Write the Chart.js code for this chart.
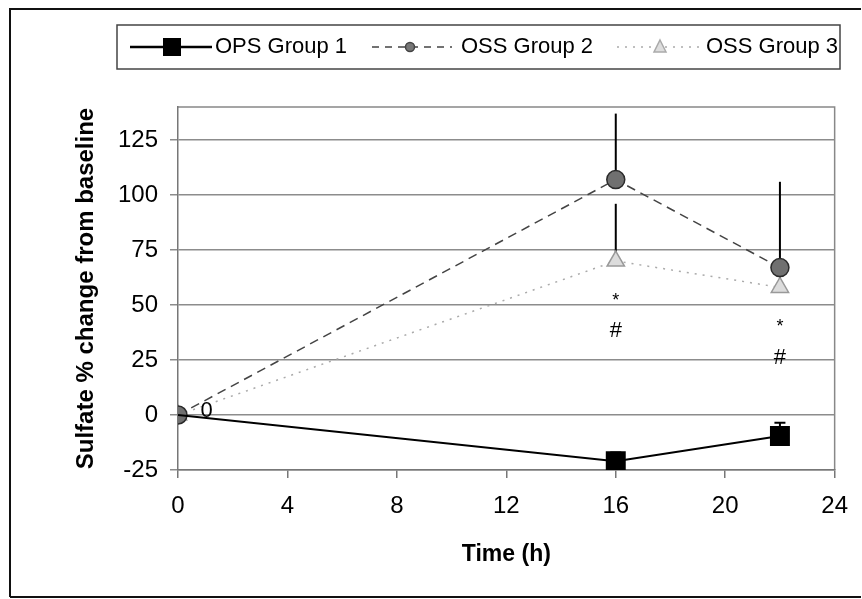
<!DOCTYPE html>
<html>
<head>
<meta charset="utf-8">
<title>Sulfate % change from baseline</title>
<script src="https://cdn.jsdelivr.net/npm/chart.js@4.4.1/dist/chart.umd.min.js"></script>
<style>
  html, body { margin: 0; padding: 0; background: #fff; }
  #wrap { width: 862px; height: 599px; }
</style>
</head>
<body>
<div id="wrap"><canvas id="sulfateChart" width="862" height="599"></canvas></div>
<script>
// Data
const timePoints = [0, 16, 22];
const opsGroup1 = [0, -21, -9.5];
const opsGroup1Err = [0, 4, 6];
const ossGroup2 = [0, 107, 67];
const ossGroup2Err = [0, 30, 39];
const ossGroup3 = [0, 70, 58];
const ossGroup3Err = [0, 26, 10];
const xTicks = [0, 4, 8, 12, 16, 20, 24];
const yTicks = [-25, 0, 25, 50, 75, 100, 125];
// significance marks and the "0" label near the origin
const noteText = ['0', '*', '#', '*', '#'];
const noteX = [1.05, 16, 16, 22, 22];
const noteY = [2, 52, 38, 40, 26];

const FONT = "'Liberation Sans', Arial, sans-serif";

function toPoints(values) {
  return timePoints.map((t, i) => ({ x: t, y: values[i] }));
}

// Error bars (upper only), drawn under the markers
const errorBars = {
  id: 'errorBars',
  beforeDatasetsDraw(chart) {
    const { ctx, scales: { x, y } } = chart;
    const sets = [
      { vals: opsGroup1, err: opsGroup1Err, cap: 11 },
      { vals: ossGroup2, err: ossGroup2Err, cap: 0 },
      { vals: ossGroup3, err: ossGroup3Err, cap: 0 }
    ];
    ctx.save();
    ctx.strokeStyle = '#000';
    ctx.lineWidth = 2;
    sets.forEach(s => {
      timePoints.forEach((t, i) => {
        if (!s.err[i]) return;
        const px = x.getPixelForValue(t);
        const y0 = y.getPixelForValue(s.vals[i]);
        const y1 = y.getPixelForValue(s.vals[i] + s.err[i]);
        ctx.beginPath();
        ctx.moveTo(px, y0);
        ctx.lineTo(px, y1);
        if (s.cap) {
          ctx.moveTo(px - s.cap / 2, y1);
          ctx.lineTo(px + s.cap / 2, y1);
        }
        ctx.stroke();
      });
    });
    ctx.restore();
  }
};

// Plot box, outer frame, notes and legend
const decorations = {
  id: 'decorations',
  beforeDraw(chart) {
    const { ctx, chartArea: a } = chart;
    ctx.save();
    ctx.strokeStyle = '#888';
    ctx.lineWidth = 1.5;
    ctx.beginPath();
    ctx.moveTo(a.left, a.top);
    ctx.lineTo(a.right, a.top);
    ctx.lineTo(a.right, a.bottom);
    ctx.stroke();
    ctx.restore();
  },
  afterDraw(chart) {
    const { ctx, scales: { x, y } } = chart;
    ctx.save();

    // outer frame
    ctx.strokeStyle = '#111';
    ctx.lineWidth = 2;
    ctx.beginPath();
    ctx.moveTo(10, 597);
    ctx.lineTo(10, 9);
    ctx.lineTo(861, 9);
    ctx.moveTo(10, 597);
    ctx.lineTo(861, 597);
    ctx.stroke();

    // notes
    ctx.fillStyle = '#000';
    ctx.textAlign = 'center';
    ctx.textBaseline = 'middle';
    noteText.forEach((txt, i) => {
      ctx.font = (txt === '*' ? '18px ' : '22px ') + FONT;
      ctx.fillText(txt, x.getPixelForValue(noteX[i]), y.getPixelForValue(noteY[i]));
    });

    // legend box
    ctx.strokeStyle = '#444';
    ctx.lineWidth = 1.5;
    ctx.strokeRect(117, 25, 723, 44);
    const ly = 47;
    ctx.font = '22px ' + FONT;
    ctx.textAlign = 'left';

    // OPS Group 1
    ctx.strokeStyle = '#000';
    ctx.lineWidth = 2.5;
    ctx.setLineDash([]);
    ctx.beginPath(); ctx.moveTo(130, ly); ctx.lineTo(212, ly); ctx.stroke();
    ctx.fillRect(163, ly - 9, 18, 18);
    ctx.fillText('OPS Group 1', 215, ly);

    // OSS Group 2
    ctx.strokeStyle = '#444';
    ctx.lineWidth = 1.5;
    ctx.setLineDash([7, 6]);
    ctx.beginPath(); ctx.moveTo(372, ly); ctx.lineTo(452, ly); ctx.stroke();
    ctx.setLineDash([]);
    ctx.fillStyle = '#777';
    ctx.beginPath(); ctx.arc(410, ly, 4.5, 0, Math.PI * 2); ctx.fill(); ctx.stroke();
    ctx.fillStyle = '#000';
    ctx.fillText('OSS Group 2', 461, ly);

    // OSS Group 3
    ctx.strokeStyle = '#aaa';
    ctx.setLineDash([2, 6]);
    ctx.beginPath(); ctx.moveTo(617, ly); ctx.lineTo(700, ly); ctx.stroke();
    ctx.setLineDash([]);
    ctx.fillStyle = '#ddd';
    ctx.beginPath();
    ctx.moveTo(660, ly - 7); ctx.lineTo(666, ly + 5); ctx.lineTo(654, ly + 5); ctx.closePath();
    ctx.fill(); ctx.stroke();
    ctx.fillStyle = '#000';
    ctx.fillText('OSS Group 3', 706, ly);

    ctx.restore();
  }
};

const ctx = document.getElementById('sulfateChart').getContext('2d');
const sulfateChart = new Chart(ctx, {
  type: 'line',
  data: {
    datasets: [
      {
        label: 'OPS Group 1',
        data: toPoints(opsGroup1),
        borderColor: '#000',
        borderWidth: 2,
        pointStyle: 'rect',
        pointRadius: [0, 12.7, 12.7],
        pointBackgroundColor: '#000',
        pointBorderColor: '#000',
        order: 1
      },
      {
        label: 'OSS Group 2',
        data: toPoints(ossGroup2),
        borderColor: '#444',
        borderWidth: 1.5,
        borderDash: [9, 6],
        pointStyle: 'circle',
        pointRadius: 9,
        pointBackgroundColor: '#707070',
        pointBorderColor: '#2a2a2a',
        pointBorderWidth: 1.5,
        order: 2
      },
      {
        label: 'OSS Group 3',
        data: toPoints(ossGroup3),
        borderColor: '#aaa',
        borderWidth: 1.5,
        borderDash: [2, 6],
        pointStyle: 'triangle',
        pointRadius: 10,
        pointBackgroundColor: '#dcdcdc',
        pointBorderColor: '#999',
        pointBorderWidth: 1.5,
        order: 3
      }
    ]
  },
  options: {
    responsive: false,
    animation: false,
    events: [],
    layout: { padding: { top: 107, right: 25, bottom: 0, left: 0 } },
    elements: { line: { tension: 0, fill: false } },
    plugins: {
      legend: { display: false },
      tooltip: { enabled: false }
    },
    scales: {
      x: {
        type: 'linear',
        min: 0,
        max: 24,
        afterBuildTicks: s => { s.ticks = xTicks.map(v => ({ value: v })); },
        afterFit: s => { s.height = 129; },
        ticks: { color: '#000', font: { family: FONT, size: 24 }, padding: 14, maxRotation: 0 },
        grid: { drawOnChartArea: false, drawTicks: true, tickLength: 8, color: '#777', lineWidth: 1.5 },
        border: { display: true, color: '#777', width: 1.5 },
        title: {
          display: true,
          text: 'Time (h)',
          color: '#000',
          font: { family: FONT, size: 23, weight: 'bold' },
          padding: { top: 0, bottom: 31 }
        }
      },
      y: {
        min: -25,
        max: 140,
        afterBuildTicks: s => { s.ticks = yTicks.map(v => ({ value: v })); },
        afterFit: s => { s.width = 178; },
        ticks: { color: '#000', font: { family: FONT, size: 24 }, padding: 12 },
        grid: { color: '#8c8c8c', lineWidth: 1.5, tickLength: 8 },
        border: { display: true, color: '#777', width: 1.5 },
        title: {
          display: true,
          text: 'Sulfate % change from baseline',
          color: '#000',
          font: { family: FONT, size: 24, weight: 'bold' },
          padding: { top: 72, bottom: 0 }
        }
      }
    }
  },
  plugins: [errorBars, decorations]
});
</script>
</body>
</html>
